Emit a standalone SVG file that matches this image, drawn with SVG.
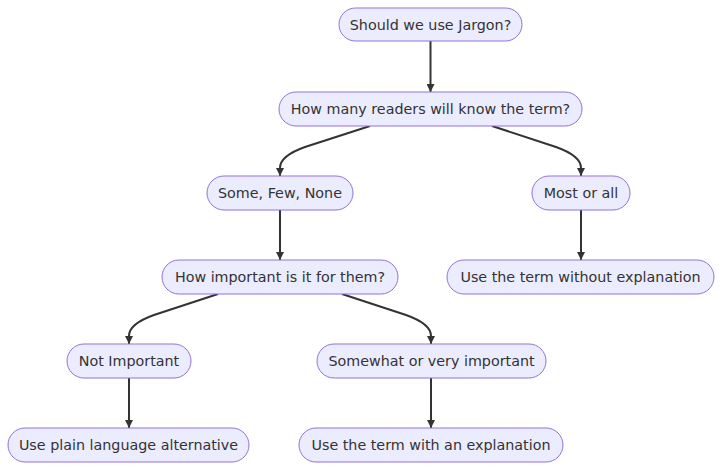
<svg xmlns="http://www.w3.org/2000/svg" width="722" height="470" viewBox="0 0 722 470">
<style>
.node rect{fill:#ECECFF;stroke:#9370DB;stroke-width:1}
.node text{font-family:"DejaVu Sans",Verdana,sans-serif;font-size:14.3px;fill:#333;text-anchor:middle;dominant-baseline:central}
.edge{fill:none;stroke:#333;stroke-width:2}
</style>
<defs>
<marker id="arrow" viewBox="0 0 10 10" refX="10" refY="5" markerWidth="8" markerHeight="8" markerUnits="userSpaceOnUse" orient="auto">
<path d="M0,0 L10,5 L0,10 z" fill="#333"/>
</marker>
</defs>
<rect width="722" height="470" fill="#fff"/>
<g id="edges">
<path class="edge" d="M430.5,41 L430.5,92" marker-end="url(#arrow)"/>
<path class="edge" d="M370,126 L305,147 C288,153 280,160 280,168 L280,176" marker-end="url(#arrow)"/>
<path class="edge" d="M492,126 L556,147 C573,153 581,160 581,168 L581,176" marker-end="url(#arrow)"/>
<path class="edge" d="M280,210 L280,260" marker-end="url(#arrow)"/>
<path class="edge" d="M581,210 L581,260" marker-end="url(#arrow)"/>
<path class="edge" d="M218,294 L154,315 C137,321 129,328 129,336 L129,344" marker-end="url(#arrow)"/>
<path class="edge" d="M342,294 L406,315 C423,321 431,328 431,336 L431,344" marker-end="url(#arrow)"/>
<path class="edge" d="M129,378 L129,428" marker-end="url(#arrow)"/>
<path class="edge" d="M431,378 L431,428" marker-end="url(#arrow)"/>
</g>
<g id="n1" class="node"><rect x="339" y="8" width="183" height="33" rx="16.5"/><text x="430.5" y="24.5">Should we use Jargon?</text></g>
<g id="n2" class="node"><rect x="279" y="92" width="303" height="34" rx="17"/><text x="430.5" y="109">How many readers will know the term?</text></g>
<g id="n3" class="node"><rect x="207" y="176" width="146" height="34" rx="17"/><text x="280" y="193">Some, Few, None</text></g>
<g id="n4" class="node"><rect x="532" y="176" width="98" height="34" rx="17"/><text x="581" y="193">Most or all</text></g>
<g id="n5" class="node"><rect x="162" y="260" width="236" height="34" rx="17"/><text x="280" y="277">How important is it for them?</text></g>
<g id="n6" class="node"><rect x="447" y="260" width="267" height="34" rx="17"/><text x="580.5" y="277">Use the term without explanation</text></g>
<g id="n7" class="node"><rect x="67" y="344" width="124" height="34" rx="17"/><text x="129" y="361">Not Important</text></g>
<g id="n8" class="node"><rect x="317" y="344" width="229" height="34" rx="17"/><text x="431.5" y="361">Somewhat or very important</text></g>
<g id="n9" class="node"><rect x="8" y="428" width="241" height="34" rx="17"/><text x="128.5" y="445">Use plain language alternative</text></g>
<g id="n10" class="node"><rect x="299" y="428" width="264" height="34" rx="17"/><text x="431" y="445">Use the term with an explanation</text></g>
</svg>
